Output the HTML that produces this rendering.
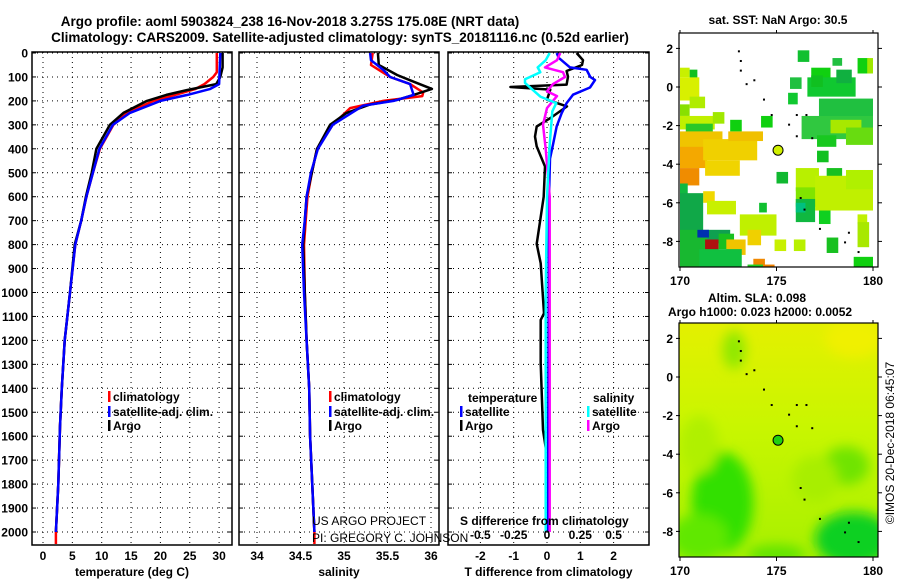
<!DOCTYPE html>
<html><head><meta charset="utf-8">
<style>
html,body{margin:0;padding:0;background:#fff;}
svg{display:block;font-family:"Liberation Sans",sans-serif;}
.b{font-weight:bold;font-size:12px;}
</style></head>
<body>
<svg id="c" width="900" height="580" viewBox="0 0 900 580">
<text x="290" y="26" text-anchor="middle" font-size="13.5" font-weight="bold">Argo profile: aoml 5903824_238 16-Nov-2018 3.275S 175.08E (NRT data)</text>
<text x="340" y="42" text-anchor="middle" font-size="13.5" font-weight="bold">Climatology: CARS2009. Satellite-adjusted climatology: synTS_20181116.nc (0.52d earlier)</text>
</svg>
<script>
// ---- data ----
const tempDepth=[0,60,100,130,155,175,200,250,300,400,500,600,700,800,1000,1200,1400,1560,1800,1900,2000];
const tempArgo=[30.6,30.6,30.2,29.5,24.5,21,17.7,13.7,11.4,9.1,8.3,7.3,6.5,5.4,4.6,3.7,3.2,2.9,2.6,2.4,2.2];
const tempClimDepth=[0,80,100,130,150,175,200,250,300,400,500,600,700,800,1000,1200,1400,1560,1800,1900,2000,2050];
const tempClim=[29.6,29.6,29,27.5,26,22.5,18.8,14.3,12,9.7,8.5,7.4,6.5,5.5,4.6,3.7,3.2,2.9,2.6,2.4,2.2,2.2];
const tempSatDepth=[0,130,150,175,200,250,300,400,500,600,700,800,1000,1200,1400,1560,1800,1900,2000];
const tempSat=[30.2,30,28.5,24.6,20,14.8,11.9,9.6,8.5,7.4,6.5,5.5,4.6,3.7,3.2,2.9,2.6,2.4,2.2];
const salDepth=[0,50,92,120,150,175,196,215,250,300,400,500,600,700,800,1000,1200,1400,1600,2000];
const salArgo=[35.39,35.4,35.61,35.8,36.01,35.8,35.61,35.3,35.03,34.84,34.69,34.63,34.57,34.55,34.53,34.55,34.57,34.6,34.61,34.66];
const salClimDepth=[0,50,100,130,165,180,200,230,300,400,500,600,700,800,1000,1200,1400,1600,2000,2050];
const salClim=[35.33,35.31,35.53,35.76,35.91,35.9,35.45,35.07,34.87,34.69,34.63,34.58,34.56,34.54,34.55,34.57,34.6,34.61,34.66,34.66];
const salSatDepth=[0,30,70,100,130,175,200,220,300,400,500,600,700,800,1000,1200,1400,1600,2000];
const salSat=[35.3,35.31,35.45,35.53,35.76,35.8,35.57,35.22,34.87,34.7,34.62,34.57,34.55,34.52,34.54,34.57,34.6,34.61,34.66];
const dTDepthArgo=[0,30,50,75,99,132,142,153,195,223,272,307,349,390,474,600,797,878,1087,1115,1296,1574,1656];
const dTArgo=[0.89,1.08,1.05,0.59,0.63,0.59,-1.1,0.1,0,0.6,0.1,-0.31,-0.36,-0.31,-0.06,-0.1,-0.31,-0.19,-0.09,-0.19,-0.19,-0.12,-0.03];
const dTDepthSat=[0,20,60,70,100,113,144,174,209,251,306,376,441,600,1000,1500,2000];
const dTSat=[0.29,0.35,0.69,1.19,1.3,1.44,1.29,0.78,0.59,0.44,0.29,0.19,0.09,0.06,0.05,0.04,0.03];
const dSDepthArgo=[0,30,60,80,100,130,160,180,230,300,400,600,1000,1500,2000];
const dSArgo=[0.1,0.075,-0.015,0.12,0.135,0.045,0,0.075,0,-0.03,-0.01,0.02,0.02,0.02,0.02];
const dSDepthSat=[0,30,60,80,110,125,182,209,244,383,600,1000,1500,2000];
const dSSat=[0.02,-0.01,-0.07,-0.05,-0.165,-0.165,-0.05,0.07,0.04,0.02,0.0,-0.01,-0.01,-0.01];
const depthTicks=[0,100,200,300,400,500,600,700,800,900,1000,1100,1200,1300,1400,1500,1600,1700,1800,1900,2000];
const tTicks=[0,5,10,15,20,25,30];
const sTicks=[34,34.5,35,35.5,36];
const dtTicks=[-2,-1,0,1,2];
const dsTicks=[-0.5,-0.25,0,0.25,0.5];
const dsTickLabels=["-0.5","-0.25","0","0.25","0.5"];
const latTicks=[2,0,-2,-4,-6,-8];
const lonTicks=[170,175,180];
const sstCells=[
[170,1,0.5,0.5,"#c8f000"],[170.5,0.9,0.4,0.6,"#10c020"],[170,0.5,1,1.2,"#d8f000"],[170,-0.9,0.5,0.6,"#88e000"],
[170.5,-0.5,0.8,0.6,"#b0ec00"],[170,-1.5,1.8,0.7,"#c0f000"],[171.7,-1.3,0.6,0.6,"#a0e800"],[170.3,-1.9,1.4,0.6,"#28c828"],
[170,-2.3,2.2,1.2,"#f0c400"],[170,-3.1,1.4,1.1,"#f4a800"],[171.2,-2.7,2.8,1.1,"#f0d000"],[172.5,-2.3,1.8,0.5,"#f0c000"],
[171.3,-3.8,1.8,0.8,"#f0d400"],[170,-4.2,1,0.9,"#f08c00"],[170,-5,0.4,0.6,"#10b840"],[172.6,-1.7,0.6,0.6,"#10d010"],
[174.1,-6,0.4,0.5,"#10c030"],[171.2,-5.4,0.6,0.6,"#f0d800"],[171.4,-5.9,1.5,0.7,"#c8f000"],[170,-5.5,1.2,2.2,"#10a848"],
[173.1,-6.6,1.9,1.1,"#c0f000"],[173.5,-7.4,0.7,0.8,"#f0d000"],[170,-7.4,1.4,2,"#18b830"],[171.4,-7.4,1.2,0.7,"#0fa050"],
[170.9,-7.4,0.6,0.4,"#0030b0"],[171.3,-7.9,0.7,1.4,"#b01010"],[172,-7.6,0.8,0.8,"#18c020"],[172.4,-7.9,1,0.8,"#f0c400"],
[171,-8.4,2.2,1,"#10c040"],[173.8,-8.9,0.6,0.6,"#f08800"],[173.5,-9.2,0.8,0.3,"#20d020"],[174.3,-9.2,0.6,0.3,"#f08000"],
[174.9,-7.9,0.6,0.6,"#c8f000"],[175.9,-7.9,0.6,0.6,"#b8f000"],[177.6,-7.8,0.6,0.8,"#18c020"],[179,-8.8,1,0.6,"#10d010"],
[175,-4.4,0.6,0.6,"#10b830"],[176,-4.2,1.2,1.2,"#b8f000"],[177.6,-4.2,0.8,0.6,"#18c020"],[176,-5.2,3.8,1,"#80e400"],
[177,-4.6,3,1.8,"#c0f000"],[176,-5.8,1,1.2,"#10b840"],[176,-6,0.5,0.5,"#00c080"],[177.2,-6.4,0.6,0.7,"#10d020"],
[178.6,-4.3,1.4,1,"#b0f000"],[179.2,-6.6,0.5,0.5,"#c0f000"],[179.2,-7,0.6,1.3,"#a8e800"],
[176.1,1.9,0.6,0.6,"#10c030"],[176.8,1,1,0.6,"#10d010"],[176.6,0.5,2.5,1,"#10c830"],[178.1,0.9,0.8,0.7,"#10b040"],
[179.2,1.5,0.6,0.8,"#10d010"],[179.7,1.5,0.3,0.8,"#a0e800"],[175.6,-0.3,0.5,0.6,"#10c830"],[174.2,-1.5,0.6,0.6,"#10d010"],
[177.2,-0.6,2.8,1.3,"#20c040"],[176.3,-1.5,3.7,1.2,"#30c840"],[177.8,-1.7,1.6,0.7,"#a8e800"],[178.6,-2.1,1.4,0.9,"#68dc10"],
[177.1,-2.5,1,0.6,"#18c820"],[177.1,-3.3,0.6,0.6,"#10c020"],[176.8,0.6,0.6,0.6,"#10c020"],[177.9,1.5,0.5,0.4,"#20c040"],
[175.7,0.5,0.6,0.6,"#20c040"]
];
// ---- helpers ----
const svg=document.getElementById('c');
const NS="http://www.w3.org/2000/svg";
function mk(tag,attrs,parent){const e=document.createElementNS(NS,tag);for(const k in attrs)e.setAttribute(k,attrs[k]);(parent||svg).appendChild(e);return e;}
const Y=d=>53+d*0.2395;
const P1={x0:32,x1:232,f:v=>43+v*5.87};
const P2={x0:239,x1:439,f:v=>257+(v-34)*87};
const P3={x0:448,x1:649,f:v=>547+v*33.3};
const fS3=v=>547+v*133.2;
const TOP=52,BOT=545;

function panel(P,name,xticks,xlabels,xtitle,showY){
  const g=mk('g',{});
  
  
  depthTicks.forEach(d=>{
    const l=mk('line',{x1:P.x0,x2:P.x1,y1:Y(d),y2:Y(d),stroke:'#000','stroke-width':1,'stroke-dasharray':'1,4'},g);
    
    
    mk('line',{x1:P.x0,x2:P.x0+4,y1:Y(d),y2:Y(d),stroke:'#000','stroke-width':1},g);
    mk('line',{x1:P.x1-4,x2:P.x1,y1:Y(d),y2:Y(d),stroke:'#000','stroke-width':1},g);
    if(showY){
      const t=mk('text',{x:28,y:Y(d)+4.5,'text-anchor':'end',class:'b'},g);
      t.textContent=d;
      
      
    }
  });
  xticks.forEach((v,i)=>{
    const x=P.f(v);
    const l=mk('line',{x1:x,x2:x,y1:TOP,y2:BOT,stroke:'#000','stroke-width':1,'stroke-dasharray':'1,4'},g);
    
    
    const t=mk('text',{x:x,y:560,'text-anchor':'middle',class:'b'},g);
    t.textContent=xlabels[i];
    
    
  });
  const r=mk('rect',{x:P.x0,y:TOP,width:P.x1-P.x0,height:BOT-TOP,fill:'none',stroke:'#000','stroke-width':1.5},g);
  
  
  const t=mk('text',{x:(P.x0+P.x1)/2,y:576,'text-anchor':'middle',class:'b'},g);
  t.textContent=xtitle;
  
  
}
function line(depths,vals,f,color,name,w){
  const pts=depths.map((d,i)=>f(vals[i]).toFixed(1)+','+Y(d).toFixed(1)).join(' ');
  const p=mk('polyline',{points:pts,fill:'none',stroke:color,'stroke-width':w||2.5,'stroke-linejoin':'round'});
  
  
}
function txt(x,y,s,name,cls,extra){
  const a={x:x,y:y};
  if(cls)a['class']=cls;
  const t=mk('text',Object.assign(a,extra||{}));
  t.textContent=s;
  
  
  return t;
}
function legend(x,y,color,label,name){
  const m=mk('rect',{x:x,y:y-10,width:2.5,height:11,fill:color});
  
  
  txt(x+5,y,label,name,'b');
}

panel(P1,'temperature-panel',tTicks,tTicks.map(String),'temperature (deg C)',true);
panel(P2,'salinity-panel',sTicks,sTicks.map(String),'salinity',false);
panel(P3,'difference-panel',dtTicks,dtTicks.map(String),'T difference from climatology',false);

line(tempClimDepth,tempClim,P1.f,'#f00','temp-climatology-line');
line(tempDepth,tempArgo,P1.f,'#000','temp-argo-line');
line(tempSatDepth,tempSat,P1.f,'#00f','temp-satellite-line');
line(salClimDepth,salClim,P2.f,'#f00','sal-climatology-line');
line(salDepth,salArgo,P2.f,'#000','sal-argo-line');
line(salSatDepth,salSat,P2.f,'#00f','sal-satellite-line');
line(dTDepthArgo,dTArgo,P3.f,'#000','dT-argo-line');
line(dTDepthSat,dTSat,P3.f,'#00f','dT-satellite-line');
line(dSDepthArgo,dSArgo,fS3,'#f0f','dS-argo-line');
line(dSDepthSat,dSSat,fS3,'#0ff','dS-satellite-line');

legend(108,401,'#f00','climatology','legend-temp-climatology');
legend(108,416,'#00f','satellite-adj. clim.','legend-temp-satellite');
legend(108,430,'#000','Argo','legend-temp-argo');
legend(329,401,'#f00','climatology','legend-sal-climatology');
legend(329,416,'#00f','satellite-adj. clim.','legend-sal-satellite');
legend(329,430,'#000','Argo','legend-sal-argo');
txt(468,402,'temperature','legend-temperature-heading','b');
legend(460,416,'#00f','satellite','legend-dT-satellite');
legend(460,430,'#000','Argo','legend-dT-argo');
txt(593,402,'salinity','legend-salinity-heading','b');
legend(587,416,'#0ff','satellite','legend-dS-satellite');
legend(587,430,'#f0f','Argo','legend-dS-argo');
txt(460,525,'S difference from climatology','s-axis-title','b');
dsTicks.forEach((v,i)=>{txt(fS3(v),539,dsTickLabels[i],'s-tick-label','b',{'text-anchor':'middle'});});
txt(312,525,'US ARGO PROJECT','credit-project',null,{'font-size':'12'});
txt(312,542,'PI: GREGORY C. JOHNSON','credit-pi',null,{'font-size':'12'});

// ---- maps ----
const MX=lon=>680+(lon-170)*19.3;
function mapGroup(name){
  const g=mk('g',{});
  
  
  return g;
}
const LYt=lat=>87-lat*19.3;
const LYb=lat=>377-lat*19.3;
const defs=mk('defs',{});
const cp=mk('clipPath',{id:'clipTop'},defs);mk('rect',{x:679,y:33,width:199,height:234},cp);
const cp2=mk('clipPath',{id:'clipBot'},defs);mk('rect',{x:679,y:323,width:199,height:234},cp2);
const lg=mk('linearGradient',{id:'slag',x1:0,y1:0,x2:0,y2:1},defs);
mk('stop',{offset:'0','stop-color':'#e4f000'},lg);
mk('stop',{offset:'0.45','stop-color':'#c8f600'},lg);
mk('stop',{offset:'1','stop-color':'#a8f000'},lg);
const filt=mk('filter',{id:'bl'},defs);
mk('feGaussianBlur',{stdDeviation:'6'},filt);

const topMap=mapGroup('sst-map');
const cg=mk('g',{'clip-path':'url(#clipTop)'},topMap);
sstCells.forEach(c=>{
  const r=mk('rect',{x:MX(c[0]),y:LYt(c[1]),width:c[2]*19.3,height:c[3]*19.3,fill:c[4]},cg);
  
  
});
const botMap=mapGroup('sla-map');
const bg=mk('g',{'clip-path':'url(#clipBot)'},botMap);
mk('rect',{x:679,y:323,width:199,height:234,fill:'url(#slag)'},bg);
const blobs=[[172.2,-6.5,1.6,2.6,'#30e000'],[171,-8.3,1.5,1.2,'#60e800'],[172.8,1.4,0.6,1,'#90e800'],[178.6,-4.6,1.2,1,'#70e400'],[179,-8.4,2,1.4,'#10d020'],[177,-5.3,1.2,1.2,'#a8ee00'],[175,-9.2,1.5,0.5,'#60e400'],[171,-3.5,1,1.5,'#b0f000'],[179,2,1.5,1,'#f0f000']];
const bf=mk('g',{filter:'url(#bl)'},bg);
blobs.forEach(b=>{mk('ellipse',{cx:MX(b[0]),cy:LYb(b[1]),rx:b[2]*19.3,ry:b[3]*19.3,fill:b[4]},bf);});

const islands=[[173,1.9],[173.1,1.4],[173.1,0.9],[173.4,0.2],[173.8,0.4],[174.3,-0.6],[174.7,-1.4],[176,-1.4],[176.5,-1.4],[175.6,-1.9],[176,-2.5],[176.8,-2.6],[176.2,-5.7],[176.4,-6.3],[177.2,-7.3],[178.5,-8],[179.2,-8.5],[178.7,-7.5]];
[[topMap,LYt],[botMap,LYb]].forEach(([g,LY])=>{
  islands.forEach(p=>{const r=mk('rect',{x:MX(p[0]),y:LY(p[1]),width:2,height:2,fill:'#000'},g);
    
    });
});
const c1=mk('circle',{cx:MX(175.08),cy:LYt(-3.275),r:5,fill:'#d0f000',stroke:'#000','stroke-width':1},topMap);


const c2=mk('circle',{cx:MX(175.08),cy:LYb(-3.275),r:5,fill:'#20d010',stroke:'#000','stroke-width':1},botMap);



[[topMap,33,LYt],[botMap,323,LYb]].forEach(([g,y0,LY])=>{
  const r=mk('rect',{x:679,y:y0,width:199,height:234,fill:'none',stroke:'#000','stroke-width':1.2},g);
  
  
  latTicks.forEach(l=>{
    mk('line',{x1:676,x2:680,y1:LY(l),y2:LY(l),stroke:'#000'},g);
    mk('line',{x1:878,x2:882,y1:LY(l),y2:LY(l),stroke:'#000'},g);
    txt(673,LY(l)+4.5,String(l),'lat-tick-label','b',{'text-anchor':'end'});
  });
  lonTicks.forEach(l=>{
    mk('line',{x1:MX(l),x2:MX(l),y1:y0-3,y2:y0,stroke:'#000'},g);
    mk('line',{x1:MX(l),x2:MX(l),y1:y0+234,y2:y0+238,stroke:'#000'},g);
    txt(MX(l),y0+252,String(l),'lon-tick-label','b',{'text-anchor':'middle'});
  });
});
txt(778,24,'sat. SST: NaN Argo: 30.5','sst-map-title','b',{'text-anchor':'middle'});
txt(757,302,'Altim. SLA: 0.098','sla-map-title','b',{'text-anchor':'middle'});
txt(760,316,'Argo h1000: 0.023 h2000: 0.0052','sla-map-subtitle','b',{'text-anchor':'middle'});
txt(0,0,'©IMOS 20-Dec-2018 06:45:07','imos-timestamp',null,{'font-size':'12','text-anchor':'middle',transform:'translate(894,443) rotate(-90)'});
</script>
</body></html>
